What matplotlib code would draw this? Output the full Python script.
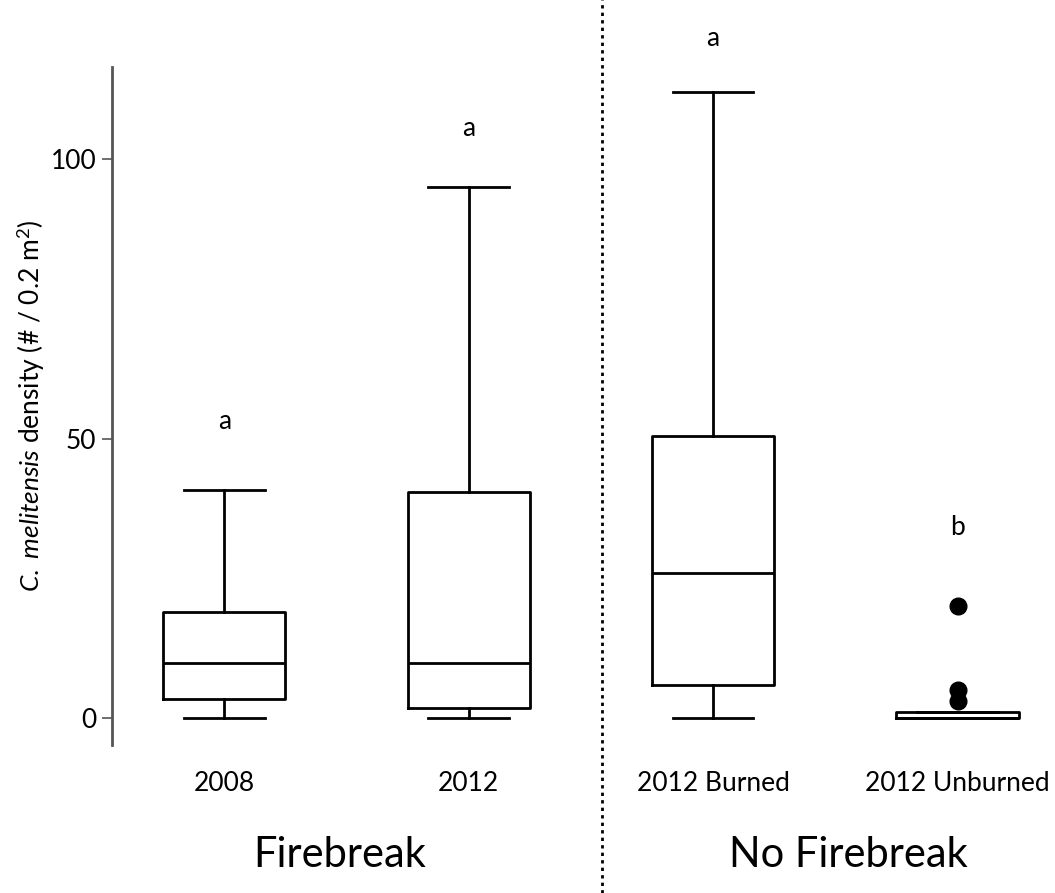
import matplotlib
matplotlib.use("Agg")
import matplotlib.pyplot as plt
from matplotlib.lines import Line2D

plt.rcParams["font.family"] = ["Lato", "DejaVu Sans"]
plt.rcParams["mathtext.fontset"] = "custom"
plt.rcParams["mathtext.rm"] = "Lato"
plt.rcParams["mathtext.it"] = "Lato:italic"

# data
groups = ["2008", "2012", "2012 Burned", "2012 Unburned"]
whisker_low = [0, 0, 0, 0]
q1 = [3.4, 1.8, 5.9, 0]
medians = [9.8, 9.8, 25.9, 0]
q3 = [19.0, 40.4, 50.4, 1.0]
whisker_high = [40.8, 95.0, 112.0, 1.0]
outliers = [[], [], [], [20, 5, 3]]
letters = ["a", "a", "a", "b"]
letter_y = [53, 105.5, 121.6, 34]


def build_stats():

    stats = []

    for i, name in enumerate(groups):
        stats.append({
            "label": name,
            "whislo": whisker_low[i],
            "q1": q1[i],
            "med": medians[i],
            "q3": q3[i],
            "whishi": whisker_high[i],
            "fliers": outliers[i],
        })

    return stats


fig = plt.figure(figsize=(10.55, 8.93), dpi=100)
ax = fig.add_axes([0.106, 0.166, 0.885, 0.759])

line = dict(color="black", linewidth=2)

ax.bxp(
    build_stats(),
    positions=[1, 2, 3, 4],
    widths=0.5,
    boxprops=line,
    medianprops=line,
    whiskerprops=line,
    capprops=line,
    capwidths=0.33,
    flierprops=dict(marker="o", markerfacecolor="black",
                    markeredgecolor="black", markersize=12),
)

for i, letter in enumerate(letters):
    ax.text(i + 1, letter_y[i], letter, ha="center", va="center",
            fontsize=19, clip_on=False)

ax.set_xlim(0.54, 4.36)
ax.set_ylim(-4.8, 116.5)
ax.set_yticks([0, 50, 100])
ax.tick_params(axis="y", labelsize=19, length=7, width=1.2,
               color="#555555", pad=4)
ax.tick_params(axis="x", labelsize=19, length=0, pad=19)

for side in ["top", "right", "bottom"]:
    ax.spines[side].set_visible(False)
ax.spines["left"].set_color("#555555")
ax.spines["left"].set_linewidth(2)

ax.set_ylabel(r"$C.\ melitensis$ density (# / 0.2 m$^2$)",
              fontsize=19, labelpad=3)

# dotted separator over the whole figure
fig.add_artist(Line2D([602 / 1055, 602 / 1055], [0, 1],
                      transform=fig.transFigure, color="black",
                      linewidth=2, linestyle=(0, (1.2, 1.5))))

fig.text(340 / 1055, 1 - 855 / 893, "Firebreak", ha="center",
         va="center", fontsize=30)
fig.text(848 / 1055, 1 - 855 / 893, "No Firebreak", ha="center",
         va="center", fontsize=30)

fig.savefig("out.png", dpi=100, facecolor="white")
